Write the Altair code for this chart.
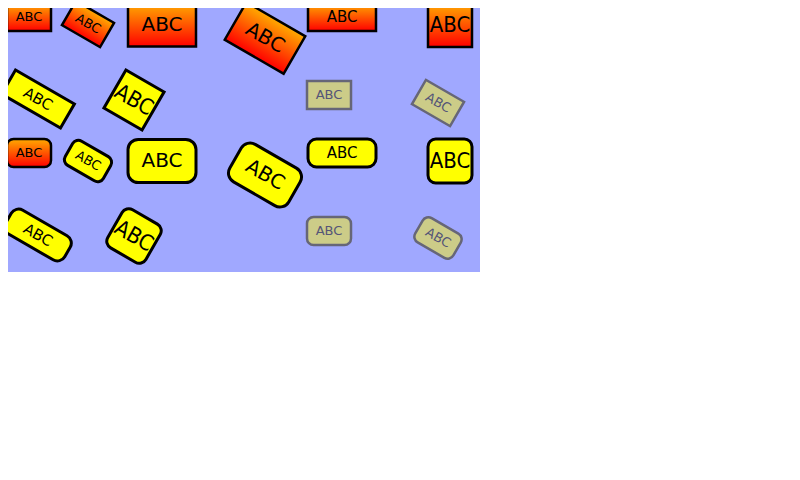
import altair as alt
import pandas as pd

# label boxes: centre (px in the 480x272 panel), box type, width, angle, style, font size
xs = [29, 88, 162, 265, 342, 450, 38, 134, 329, 438,
      29, 88, 162, 265, 342, 450, 38, 134, 329, 438]
ys = [17, 24, 25, 38, 17, 25, 99, 100, 95, 103,
      153, 161, 161, 175, 153, 161, 235, 236, 231, 238]
kinds = ["rect_n", "rect_n", "rect_n", "rect_n", "rect_w", "rect_t", "rect_w", "rect_t", "rect_n", "rect_n",
         "round_n", "round_n", "round_n", "round_n", "round_w", "round_t", "round_w", "round_t", "round_n", "round_n"]
widths = [44, 44, 68, 68, 68, 44, 68, 44, 44, 44,
          44, 44, 68, 68, 68, 44, 68, 44, 44, 44]
angles = [0, 30, 0, 30, 0, 0, 30, 30, 0, 30,
          0, 30, 0, 30, 0, 0, 30, 30, 0, 30]
styles = ["grad", "grad", "grad", "grad", "grad", "grad", "yellow", "yellow", "gray", "gray",
          "grad", "yellow", "yellow", "yellow", "yellow", "yellow", "yellow", "yellow", "gray", "gray"]
fsizes = [13, 13, 20, 20, 15, 22, 15, 22, 13, 13,
          13, 13, 20, 20, 15, 22, 15, 22, 13, 13]
label = "ABC"


def box_path(h, r):
    if r == 0:
        return f"M-1,{-h}L1,{-h}L1,{h}L-1,{h}Z"
    return (f"M{-1 + r},{-h}L{1 - r},{-h}A{r},{r} 0 0 1 1,{-h + r}L1,{h - r}"
            f"A{r},{r} 0 0 1 {1 - r},{h}L{-1 + r},{h}A{r},{r} 0 0 1 -1,{h - r}"
            f"L-1,{-h + r}A{r},{r} 0 0 1 {-1 + r},{-h}Z")


paths = {
    "rect_n": box_path(0.636, 0), "rect_w": box_path(0.41, 0), "rect_t": box_path(1.0, 0),
    "round_n": box_path(0.636, 0.3), "round_w": box_path(0.41, 0.25), "round_t": box_path(1.0, 0.35),
}

df = pd.DataFrame({"x": xs, "y": ys, "kind": kinds, "w": widths, "angle": angles,
                   "style": styles, "fs": fsizes})
df["path"] = df["kind"].map(paths)
df["size"] = df["w"] ** 2
df["txt"] = label
df["tcolor"] = df["style"].map({"grad": "#000000", "yellow": "#000000", "gray": "#555577"})
df["cond"] = df["kind"].str.endswith("_t")

xsc = alt.Scale(domain=[8, 480], range=[0, 472])
ysc = alt.Scale(domain=[8, 272], range=[0, 264])

base = alt.Chart(df).encode(
    x=alt.X("x:Q", scale=xsc, axis=None),
    y=alt.Y("y:Q", scale=ysc, axis=None),
    angle=alt.Angle("angle:Q", scale=None),
)

grad = {"gradient": "linear", "x1": 0, "y1": 0, "x2": 0, "y2": 1,
        "stops": [{"offset": 0, "color": "#ffaa00"}, {"offset": 1, "color": "#ff0000"}]}


def boxes(style, fill, stroke, sw):
    return base.transform_filter(alt.datum.style == style).mark_point(
        filled=True, fill=fill, stroke=stroke, strokeWidth=sw, opacity=1, fillOpacity=1
    ).encode(shape=alt.Shape("path:N", scale=None), size=alt.Size("size:Q", scale=None))


texts_n = base.transform_filter(~alt.datum.cond).mark_text(font="DejaVu Sans").encode(
    text="txt:N", size=alt.Size("fs:Q", scale=None), color=alt.Color("tcolor:N", scale=None))
texts_c = base.transform_filter(alt.datum.cond).mark_text(font="DejaVu Sans Condensed").encode(
    text="txt:N", size=alt.Size("fs:Q", scale=None), color=alt.Color("tcolor:N", scale=None))

chart = alt.layer(
    boxes("grad", grad, "#000000", 2.5),
    boxes("yellow", "#ffff00", "#000000", 3),
    boxes("gray", "#cccc88", "#666677", 2.5),
    texts_n, texts_c,
).properties(
    width=472, height=264, padding=0, autosize="none"
).configure_view(fill="#a0a8ff", strokeWidth=0)

chart.save("out.html", embed_options={"renderer": "svg", "actions": False})
